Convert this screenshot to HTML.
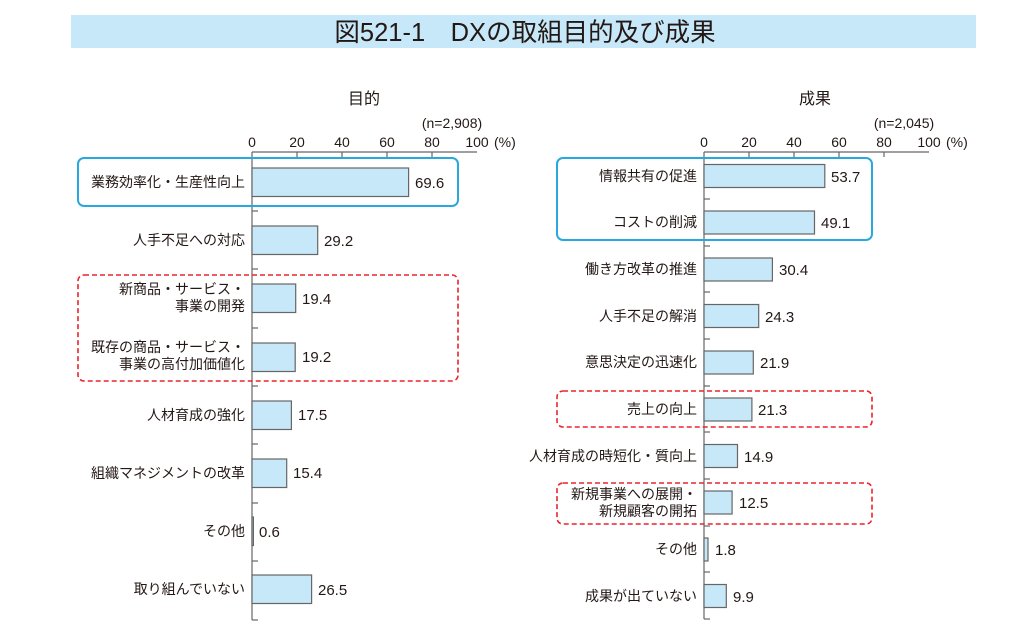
<!DOCTYPE html>
<html><head><meta charset="utf-8"><style>
body{margin:0;background:#fff;}
svg text{font-family:"Liberation Sans","Noto Sans CJK JP",sans-serif;fill:#231815;}
</style></head><body>
<svg width="1024" height="638" viewBox="0 0 1024 638" xmlns="http://www.w3.org/2000/svg">
<rect x="71" y="15" width="905" height="33" fill="#c7e8f8"/>
<text x="525" y="41" font-size="25.5" text-anchor="middle">図521-1　DXの取組目的及び成果</text>

<!-- LEFT -->
<text x="364" y="104" font-size="16" text-anchor="middle">目的</text>
<text x="452" y="128" font-size="14" text-anchor="middle">(n=2,908)</text>
<g font-size="14" text-anchor="middle">
<text x="252" y="147">0</text><text x="297" y="147">20</text><text x="342" y="147">40</text><text x="387" y="147">60</text><text x="432" y="147">80</text><text x="477" y="147">100</text>
</g>
<text x="494" y="147" font-size="14">(%)</text>
<g stroke="#666" stroke-width="1.2" fill="none">
<line x1="252" y1="152" x2="477" y2="152"/>
<line x1="252" y1="152" x2="252" y2="620"/>
<line x1="297" y1="152" x2="297" y2="157"/><line x1="342" y1="152" x2="342" y2="157"/><line x1="387" y1="152" x2="387" y2="157"/><line x1="432" y1="152" x2="432" y2="157"/>
<line x1="252" y1="211" x2="258" y2="211"/><line x1="252" y1="269" x2="258" y2="269"/><line x1="252" y1="328" x2="258" y2="328"/><line x1="252" y1="386" x2="258" y2="386"/><line x1="252" y1="444" x2="258" y2="444"/><line x1="252" y1="503" x2="258" y2="503"/><line x1="252" y1="561" x2="258" y2="561"/><line x1="252" y1="620" x2="258" y2="620"/>
</g>
<g fill="#c7e8f8" stroke="#666" stroke-width="1.2">
<rect x="252" y="168" width="156.6" height="28.5"/>
<rect x="252" y="226" width="65.7" height="28.5"/>
<rect x="252" y="284" width="43.7" height="28.5"/>
<rect x="252" y="343" width="43.2" height="28.5"/>
<rect x="252" y="401" width="39.4" height="28.5"/>
<rect x="252" y="459" width="34.7" height="28.5"/>
<rect x="252" y="517" width="1.4" height="28.5"/>
<rect x="252" y="575" width="59.6" height="28.5"/>
</g>
<g font-size="14" text-anchor="end">
<text x="245" y="187">業務効率化・生産性向上</text>
<text x="245" y="245">人手不足への対応</text>
<text x="245" y="294">新商品・サービス・</text>
<text x="245" y="311">事業の開発</text>
<text x="245" y="352">既存の商品・サービス・</text>
<text x="245" y="369">事業の高付加価値化</text>
<text x="245" y="420">人材育成の強化</text>
<text x="245" y="478">組織マネジメントの改革</text>
<text x="245" y="536">その他</text>
<text x="245" y="594">取り組んでいない</text>
</g>
<g font-size="15">
<text x="415" y="188">69.6</text>
<text x="324" y="246">29.2</text>
<text x="302" y="304">19.4</text>
<text x="302" y="362">19.2</text>
<text x="298" y="420">17.5</text>
<text x="293" y="478">15.4</text>
<text x="259" y="537">0.6</text>
<text x="318" y="595">26.5</text>
</g>
<rect x="78" y="158" width="380" height="48" rx="6" fill="none" stroke="#29a8e0" stroke-width="2"/>
<rect x="78" y="275" width="380" height="106" rx="6" fill="none" stroke="#e8262d" stroke-width="1.6" stroke-dasharray="5,3"/>

<!-- RIGHT -->
<text x="815" y="104" font-size="16" text-anchor="middle">成果</text>
<text x="904" y="128" font-size="14" text-anchor="middle">(n=2,045)</text>
<g font-size="14" text-anchor="middle">
<text x="704" y="147">0</text><text x="749" y="147">20</text><text x="794" y="147">40</text><text x="839" y="147">60</text><text x="884" y="147">80</text><text x="929" y="147">100</text>
</g>
<text x="946" y="147" font-size="14">(%)</text>
<g stroke="#666" stroke-width="1.2" fill="none">
<line x1="704" y1="152" x2="929" y2="152"/>
<line x1="704" y1="152" x2="704" y2="619"/>
<line x1="749" y1="152" x2="749" y2="157"/><line x1="794" y1="152" x2="794" y2="157"/><line x1="839" y1="152" x2="839" y2="157"/><line x1="884" y1="152" x2="884" y2="157"/>
<line x1="704" y1="199" x2="710" y2="199"/><line x1="704" y1="246" x2="710" y2="246"/><line x1="704" y1="292" x2="710" y2="292"/><line x1="704" y1="339" x2="710" y2="339"/><line x1="704" y1="386" x2="710" y2="386"/><line x1="704" y1="432" x2="710" y2="432"/><line x1="704" y1="479" x2="710" y2="479"/><line x1="704" y1="526" x2="710" y2="526"/><line x1="704" y1="572" x2="710" y2="572"/><line x1="704" y1="619" x2="710" y2="619"/>
</g>
<g fill="#c7e8f8" stroke="#666" stroke-width="1.2">
<rect x="704" y="164.5" width="120.8" height="23"/>
<rect x="704" y="211" width="110.5" height="23"/>
<rect x="704" y="258" width="68.4" height="23"/>
<rect x="704" y="304.5" width="54.7" height="23"/>
<rect x="704" y="351" width="49.3" height="23"/>
<rect x="704" y="398" width="47.9" height="23"/>
<rect x="704" y="444.5" width="33.5" height="23"/>
<rect x="704" y="491" width="28.1" height="23"/>
<rect x="704" y="538" width="4" height="23"/>
<rect x="704" y="584.5" width="22.3" height="23"/>
</g>
<g font-size="14" text-anchor="end">
<text x="697" y="181">情報共有の促進</text>
<text x="697" y="227">コストの削減</text>
<text x="697" y="274">働き方改革の推進</text>
<text x="697" y="321">人手不足の解消</text>
<text x="697" y="367">意思決定の迅速化</text>
<text x="697" y="414">売上の向上</text>
<text x="697" y="461">人材育成の時短化・質向上</text>
<text x="697" y="499">新規事業への展開・</text>
<text x="697" y="516">新規顧客の開拓</text>
<text x="697" y="554">その他</text>
<text x="697" y="601">成果が出ていない</text>
</g>
<g font-size="15">
<text x="831" y="182">53.7</text>
<text x="821" y="228">49.1</text>
<text x="779" y="275">30.4</text>
<text x="765" y="322">24.3</text>
<text x="760" y="368">21.9</text>
<text x="758" y="415">21.3</text>
<text x="744" y="462">14.9</text>
<text x="739" y="508">12.5</text>
<text x="715" y="555">1.8</text>
<text x="733" y="602">9.9</text>
</g>
<rect x="557" y="158" width="315" height="82" rx="6" fill="none" stroke="#29a8e0" stroke-width="2"/>
<rect x="557" y="391" width="315" height="36" rx="6" fill="none" stroke="#e8262d" stroke-width="1.6" stroke-dasharray="5,3"/>
<rect x="557" y="483" width="315" height="41" rx="6" fill="none" stroke="#e8262d" stroke-width="1.6" stroke-dasharray="5,3"/>
</svg>
</body></html>
